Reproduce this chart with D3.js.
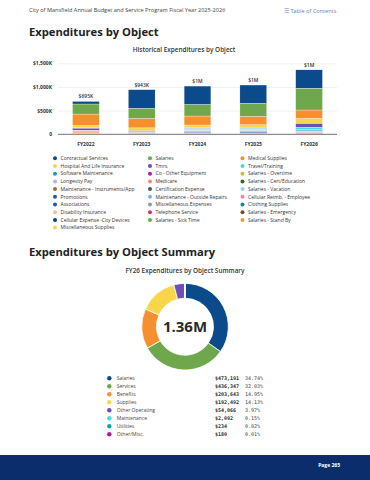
<!DOCTYPE html>
<html>
<head>
<meta charset="utf-8">
<script src="https://cdn.jsdelivr.net/npm/d3@7"></script>
<style>
  body { margin: 0; background: #fff; }
  svg { display: block; font-family: "Open Sans", sans-serif; }
</style>
</head>
<body>
<svg id="page" width="370" height="480"></svg>
<script>
// fiscal years on the x axis
const years = ["FY2022", "FY2023", "FY2024", "FY2025", "FY2026"];

// object names, legend order (first one sits on top of the stack)
const objects = [
  "Contractual Services", "Salaries", "Medical Supplies",
  "Hospital And Life Insurance", "Tmrs", "Travel/Training",
  "Software Maintenance", "Co - Other Equipment", "Salaries - Overtime",
  "Longevity Pay", "Medicare", "Salaries - Cert/Education",
  "Maintenance - Instruments/App", "Certification Expense", "Salaries - Vacation",
  "Promotions", "Maintenance - Outside Repairs", "Cellular Reimb. - Employee",
  "Associations", "Miscellaneous Expenses", "Clothing Supplies",
  "Disability Insurance", "Telephone Service", "Salaries - Emergency",
  "Cellular Expense -City Devices", "Salaries - Sick Time", "Salaries - Stand By",
  "Miscellaneous Supplies"
];

const objectColors = [
  "#0b4a8b", "#6fa84c", "#f68f2d",
  "#f8d64b", "#6b4fbb", "#40d9ee",
  "#16a0ae", "#b3199d", "#c6bf35",
  "#b6b4ef", "#ec8a6e", "#2e6a22",
  "#a66a3e", "#4d5559", "#93d4ec",
  "#1d5aa5", "#74b4f0", "#f27dc9",
  "#2b52c4", "#8d9ba6", "#168a8d",
  "#f7bc90", "#d83370", "#7a4c2e",
  "#0c3f74", "#6fa84c", "#f5983a",
  "#f6d74c"
];

// spending per object, one value per fiscal year (dollars)
const contractual   = [55000, 392000, 387000, 385000, 387000];
const salaries      = [212000, 215000, 246000, 276000, 462000];
const medical       = [242000, 200000, 190000, 178000, 176000];
const hospital      = [45000, 55000, 55000, 56000, 104000];
const tmrs          = [22000, 20000, 12000, 14000, 82000];
const travel        = [0, 5000, 6000, 8000, 48000];
const software      = [0, 4000, 10000, 12000, 28000];
const coEquipment   = [30000, 0, 0, 0, 2000];
const overtime      = [0, 0, 0, 0, 0];
const longevity     = [8000, 10000, 14000, 12000, 14000];
const medicare      = [8000, 8000, 10000, 12000, 18000];
const certEducation = [0, 0, 0, 0, 0];
const maintInstr    = [0, 0, 0, 0, 0];
const certExpense   = [0, 0, 0, 0, 0];
const vacation      = [0, 0, 10000, 12000, 10000];
const promotions    = [0, 0, 0, 0, 0];
const maintOutside  = [0, 0, 22000, 24000, 14000];
const cellReimb     = [20000, 0, 0, 0, 0];
const associations  = [0, 7000, 18000, 20000, 5000];
const miscExpenses  = [0, 0, 14000, 10000, 0];
const clothing      = [0, 0, 0, 0, 0];
const disability    = [30000, 15000, 12000, 12000, 8000];
const telephone     = [0, 0, 0, 0, 0];
const emergency     = [0, 0, 0, 0, 0];
const cellCity      = [0, 0, 0, 0, 0];
const sickTime      = [0, 0, 0, 0, 0];
const standBy       = [0, 0, 0, 0, 0];
const miscSupplies  = [23000, 12000, 13000, 10000, 4000];

const seriesValues = [
  contractual, salaries, medical, hospital, tmrs, travel, software, coEquipment,
  overtime, longevity, medicare, certEducation, maintInstr, certExpense, vacation,
  promotions, maintOutside, cellReimb, associations, miscExpenses, clothing,
  disability, telephone, emergency, cellCity, sickTime, standBy, miscSupplies
];

const yTicks = [0, 500000, 1000000, 1500000];

// FY26 summary donut
const summaryNames = ["Salaries", "Services", "Benefits", "Supplies", "Other Operating", "Maintenance", "Utilities", "Other/Misc."];
const summaryValues = [473191, 436347, 203643, 192492, 54066, 2092, 234, 180];
const summaryColors = ["#0b4a8b", "#6fa84c", "#f68f2d", "#f8d64b", "#6b4fbb", "#40d9ee", "#16a0ae", "#b3199d"];

const svg = d3.select("#page");
const dark = "#222";

// page header
svg.append("text").attr("x", 29).attr("y", 12)
   .attr("font-size", 5.6).attr("fill", "#444")
   .text("City of Mansfield Annual Budget and Service Program Fiscal Year 2025-2026");
svg.append("text").attr("x", 284).attr("y", 13)
   .attr("font-size", 5.6).attr("fill", "#5a7fc0")
   .text("\u2630 Table of Contents");

svg.append("text").attr("x", 29).attr("y", 36)
   .attr("font-size", 11.2).attr("font-weight", 700).attr("fill", dark)
   .text("Expenditures by Object");

svg.append("text").attr("x", 184).attr("y", 52).attr("text-anchor", "middle")
   .attr("font-size", 6.4).attr("font-weight", 600).attr("fill", "#333")
   .text("Historical Expenditures by Object");

// ---- stacked bars ----
const x = d3.scaleBand().domain(years).range([58, 337]).paddingInner(0.52).paddingOuter(0.26);
const y = d3.scaleLinear().domain([0, 1500000]).range([134.3, 63.3]);

const table = years.map((yr, i) => {
  const row = {year: yr};
  objects.forEach((o, k) => row[o] = seriesValues[k][i]);
  return row;
});

const stack = d3.stack().keys(objects.slice().reverse());
const layers = stack(table);
const colorOf = d3.scaleOrdinal(objects, objectColors);

const chart = svg.append("g");

chart.append("g")
  .attr("transform", "translate(58,0)")
  .call(d3.axisLeft(y).tickValues(yTicks).tickSize(-279)
          .tickFormat(d => d === 0 ? "0" : "$" + d3.format(",")(d / 1000) + "K"))
  .call(g => g.select(".domain").remove())
  .call(g => g.selectAll("line").attr("stroke", "#e6e6e6").attr("stroke-width", 0.6))
  .call(g => g.selectAll("text").attr("x", -6).attr("font-size", 5).attr("font-weight", 700)
                .attr("fill", "#333").attr("font-family", "Open Sans"));

chart.selectAll("g.layer")
  .data(layers)
  .join("g").attr("class", "layer")
  .attr("fill", d => colorOf(d.key))
  .selectAll("rect")
  .data(d => d)
  .join("rect")
  .attr("x", d => x(d.data.year))
  .attr("width", x.bandwidth())
  .attr("y", d => y(d[1]))
  .attr("height", d => Math.max(0, y(d[0]) - y(d[1])))
  .attr("stroke", "#fff").attr("stroke-width", 0.3);

chart.append("line").attr("x1", 58).attr("x2", 337).attr("y1", y(0)).attr("y2", y(0))
  .attr("stroke", "#555").attr("stroke-width", 0.8);

chart.append("g")
  .attr("transform", `translate(0,${y(0)})`)
  .call(d3.axisBottom(x).tickSize(0).tickPadding(8))
  .call(g => g.select(".domain").remove())
  .call(g => g.selectAll("text").attr("font-size", 5).attr("font-weight", 700)
                .attr("fill", "#333").attr("font-family", "Open Sans"));

const totals = years.map((yr, i) => d3.sum(seriesValues, s => s[i]));
const fmtTotal = v => v >= 1e6 ? "$" + Math.floor(v / 1e6) + "M" : "$" + Math.round(v / 1000) + "K";

chart.selectAll("text.total")
  .data(years)
  .join("text").attr("class", "total")
  .attr("x", d => x(d) + x.bandwidth() / 2)
  .attr("y", (d, i) => y(totals[i]) - 3)
  .attr("text-anchor", "middle")
  .attr("font-size", 5).attr("font-weight", 600).attr("fill", "#333")
  .text((d, i) => fmtTotal(totals[i]));

// legend, three columns, row by row
const legend = svg.append("g");
const colX = [55, 150, 242.5];
legend.selectAll("g")
  .data(objects)
  .join("g")
  .attr("transform", (d, i) => `translate(${colX[i % 3]},${158.3 + Math.floor(i / 3) * 7.7})`)
  .call(g => g.append("circle").attr("r", 2).attr("fill", d => colorOf(d)))
  .call(g => g.append("text").attr("x", 5.5).attr("dy", "0.35em")
                .attr("font-size", 5).attr("fill", "#333").text(d => d));

// ---- summary ----
svg.append("text").attr("x", 29).attr("y", 256)
   .attr("font-size", 11.2).attr("font-weight", 700).attr("fill", dark)
   .text("Expenditures by Object Summary");

svg.append("text").attr("x", 185).attr("y", 273).attr("text-anchor", "middle")
   .attr("font-size", 6.4).attr("font-weight", 600).attr("fill", "#333")
   .text("FY26 Expenditures by Object Summary");

const pie = d3.pie().sort(null).value(d => d);
const arc = d3.arc().innerRadius(28.5).outerRadius(43.3);
const donut = svg.append("g").attr("transform", "translate(185,326.7)");
donut.selectAll("path")
  .data(pie(summaryValues))
  .join("path")
  .attr("d", arc)
  .attr("fill", (d, i) => summaryColors[i])
  .attr("stroke", "#fff").attr("stroke-width", 0.8);

const total = d3.sum(summaryValues);
donut.append("text").attr("text-anchor", "middle").attr("dy", "0.36em")
  .attr("font-size", 15).attr("font-weight", 700).attr("fill", "#2a2a2a")
  .text((total / 1e6).toFixed(2) + "M");

const sumLegend = svg.append("g");
const rows = sumLegend.selectAll("g")
  .data(summaryNames)
  .join("g")
  .attr("transform", (d, i) => `translate(109.3,${378.3 + i * 8})`);
rows.append("circle").attr("r", 2.2).attr("fill", (d, i) => summaryColors[i]);
rows.append("text").attr("x", 7.4).attr("dy", "0.35em")
  .attr("font-size", 5).attr("fill", "#444").text(d => d);
rows.append("text").attr("x", 105.7).attr("dy", "0.35em")
  .attr("font-size", 5).attr("font-weight", 700).attr("fill", "#333")
  .attr("font-family", "DejaVu Sans Mono")
  .text((d, i) => "$" + d3.format(",")(summaryValues[i]));
rows.append("text").attr("x", 135.7).attr("dy", "0.35em")
  .attr("font-size", 5).attr("fill", "#444")
  .attr("font-family", "DejaVu Sans Mono")
  .text((d, i) => (summaryValues[i] / total * 100).toFixed(2) + "%");

// footer band
svg.append("rect").attr("x", 0).attr("y", 455).attr("width", 370).attr("height", 25).attr("fill", "#0c2d6b");
svg.append("text").attr("x", 340).attr("y", 467).attr("text-anchor", "end")
   .attr("font-size", 5).attr("font-weight", 700).attr("fill", "#fff")
   .text("Page 265");
</script>
</body>
</html>
